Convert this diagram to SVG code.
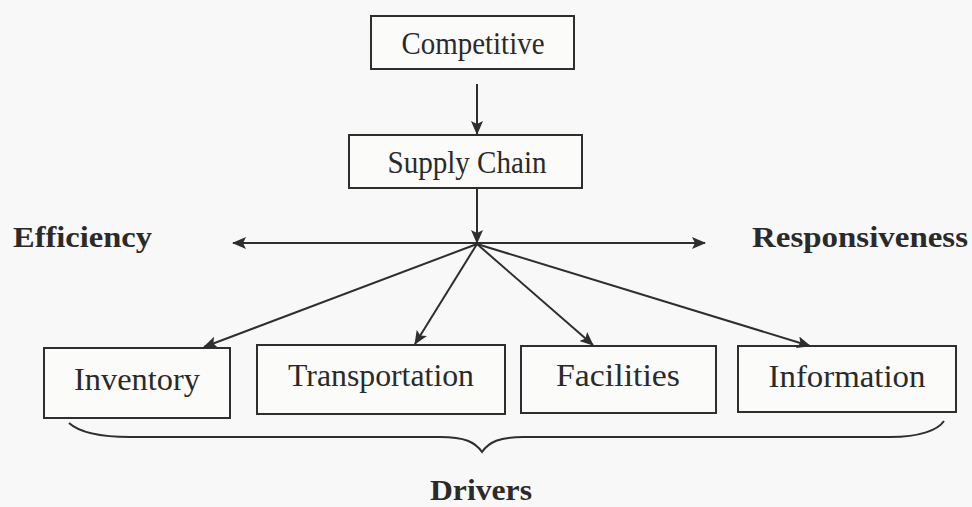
<svg xmlns="http://www.w3.org/2000/svg" width="972" height="507" viewBox="0 0 972 507">
  <style>
    .box { fill: #fbfbfa; stroke: #2e2e2e; stroke-width: 2; }
    .lbl { font-family: "Liberation Serif", "Times New Roman", serif; font-size: 31px; fill: #2a2a2a; text-anchor: middle; }
    .bold { font-family: "Liberation Serif", "Times New Roman", serif; font-weight: bold; font-size: 30px; fill: #2a2a2a; }
    .edge { stroke: #2e2e2e; stroke-width: 2; fill: none; }
  </style>
  <defs>
    <marker id="arrow" viewBox="0 0 14 12" refX="13" refY="6" markerWidth="14" markerHeight="12" markerUnits="userSpaceOnUse" orient="auto">
      <path d="M0,0 L14,6 L0,12 L3,6 Z" fill="#2e2e2e"/>
    </marker>
  </defs>
  <rect width="972" height="507" fill="#f7f8f7"/>

  <g id="competitive">
    <rect class="box" x="371" y="16" width="203" height="53"/>
    <text class="lbl" x="473" y="54" textLength="143" lengthAdjust="spacingAndGlyphs">Competitive</text>
  </g>
  <g id="supply-chain">
    <rect class="box" x="349" y="135" width="233" height="53"/>
    <text class="lbl" x="467" y="173" textLength="159" lengthAdjust="spacingAndGlyphs">Supply Chain</text>
  </g>
  <g id="efficiency">
    <text class="bold" x="13" y="247" textLength="139" lengthAdjust="spacingAndGlyphs">Efficiency</text>
  </g>
  <g id="responsiveness">
    <text class="bold" x="752" y="247" textLength="216" lengthAdjust="spacingAndGlyphs">Responsiveness</text>
  </g>
  <g id="inventory">
    <rect class="box" x="44" y="348" width="186" height="70"/>
    <text class="lbl" x="137" y="390" textLength="126" lengthAdjust="spacingAndGlyphs">Inventory</text>
  </g>
  <g id="transportation">
    <rect class="box" x="257" y="345" width="248" height="69"/>
    <text class="lbl" x="381" y="386" textLength="186" lengthAdjust="spacingAndGlyphs">Transportation</text>
  </g>
  <g id="facilities">
    <rect class="box" x="521" y="346" width="195" height="67"/>
    <text class="lbl" x="618" y="386" textLength="124" lengthAdjust="spacingAndGlyphs">Facilities</text>
  </g>
  <g id="information">
    <rect class="box" x="738" y="346" width="218" height="66"/>
    <text class="lbl" x="847" y="387" textLength="157" lengthAdjust="spacingAndGlyphs">Information</text>
  </g>
  <g id="drivers">
    <text class="bold" x="430" y="500" font-size="28" textLength="102" lengthAdjust="spacingAndGlyphs">Drivers</text>
  </g>

  <g id="connectors">
    <line class="edge" x1="477" y1="84" x2="477" y2="134" marker-end="url(#arrow)"/>
    <line class="edge" x1="477" y1="188" x2="477" y2="243" marker-end="url(#arrow)"/>
    <line class="edge" x1="477" y1="243" x2="233" y2="243" marker-end="url(#arrow)"/>
    <line class="edge" x1="477" y1="243" x2="705" y2="243" marker-end="url(#arrow)"/>
    <line class="edge" x1="477" y1="244" x2="204" y2="347" marker-end="url(#arrow)"/>
    <line class="edge" x1="477" y1="244" x2="415" y2="344" marker-end="url(#arrow)"/>
    <line class="edge" x1="477" y1="244" x2="593" y2="345" marker-end="url(#arrow)"/>
    <line class="edge" x1="477" y1="244" x2="810" y2="346" marker-end="url(#arrow)"/>
    <!-- curly brace grouping the drivers -->
    <path class="edge" d="M69,423 C80,433 100,437 130,437 L440,437 C465,437 475,442 482,452 C489,442 499,437 524,437 L890,437 C920,437 938,430 944,421"/>
  </g>
</svg>
